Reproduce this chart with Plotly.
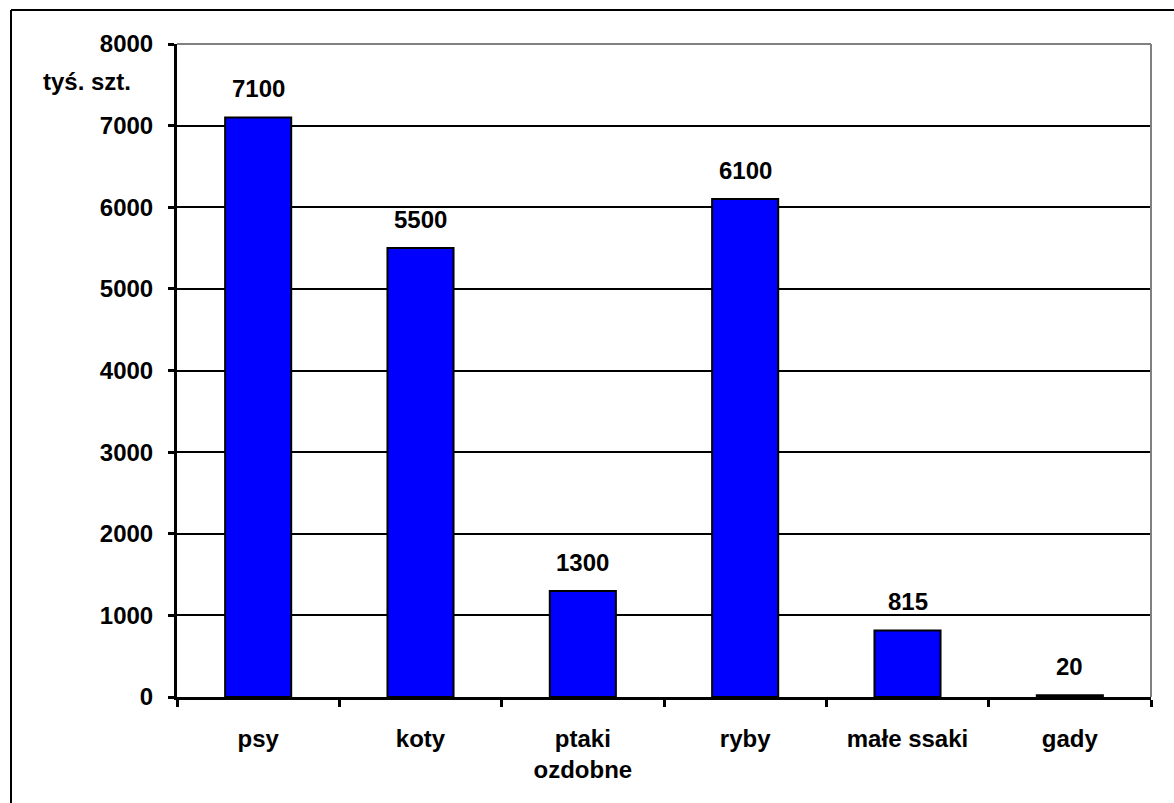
import plotly.graph_objects as go

categories = ["psy", "koty", "ptaki<br>ozdobne", "ryby", "małe ssaki", "gady"]
values = [7100, 5500, 1300, 6100, 815, 20]
value_labels = ["7100", "5500", "1300", "6100", "815", "20"]
y_ticks = [0, 1000, 2000, 3000, 4000, 5000, 6000, 7000, 8000]
y_title = "tyś. szt."

FONT = "Liberation Sans, Arial, sans-serif"
FS = 24

fig = go.Figure()
fig.add_trace(go.Bar(
    x=categories, y=values,
    marker=dict(color="#0000FF", line=dict(color="black", width=2)),
    hoverinfo="skip",
))

for c, v, t in zip(categories, values, value_labels):
    fig.add_annotation(x=c, y=v, text=t, showarrow=False, yanchor="bottom",
                       yshift=13, font=dict(family=FONT, size=FS, color="black", weight="bold"))

fig.add_annotation(xref="paper", yref="paper", x=(133 - 177) / 974, y=(697 - 82) / 653,
                   xanchor="right", yanchor="middle", text=y_title, showarrow=False,
                   font=dict(family=FONT, size=FS, color="black", weight="bold"))

# outer frame (only top/left visible in the image)
fig.add_shape(type="line", xref="paper", yref="paper",
              x0=(11 - 177) / 974, x1=(11 - 177) / 974, y0=-0.3, y1=(697 - 10) / 653,
              line=dict(color="black", width=2))
fig.add_shape(type="line", xref="paper", yref="paper",
              x0=(11 - 177) / 974, x1=1.1, y0=(697 - 10) / 653, y1=(697 - 10) / 653,
              line=dict(color="black", width=2))
# gray plot frame top/right
fig.add_shape(type="line", xref="paper", yref="paper", x0=0, x1=1, y0=1, y1=1,
              line=dict(color="#808080", width=2))
fig.add_shape(type="line", xref="paper", yref="paper", x0=1, x1=1, y0=0, y1=1,
              line=dict(color="#808080", width=2))

fig.update_layout(
    width=1174, height=803,
    margin=dict(l=177, r=23, t=44, b=106),
    paper_bgcolor="white", plot_bgcolor="white",
    bargap=0.593,
    showlegend=False,
    font=dict(family=FONT, color="black"),
)
fig.update_xaxes(
    showline=True, linecolor="black", linewidth=3,
    ticks="outside", ticklen=7, tickwidth=3, tickcolor="black",
    tickson="boundaries",
    tickfont=dict(family=FONT, size=FS, color="black", weight="bold"),
    showgrid=False,
    ticklabelstandoff=18,
)
fig.update_yaxes(
    range=[0, 8000], tickvals=y_ticks,
    showline=True, linecolor="black", linewidth=3,
    ticks="outside", ticklen=6, tickwidth=3, tickcolor="black",
    showgrid=True, gridcolor="black", gridwidth=1.5,
    zeroline=False,
    tickfont=dict(family=FONT, size=FS, color="black", weight="bold"),
    ticklabelstandoff=10,
)

fig.write_html("out.html")
